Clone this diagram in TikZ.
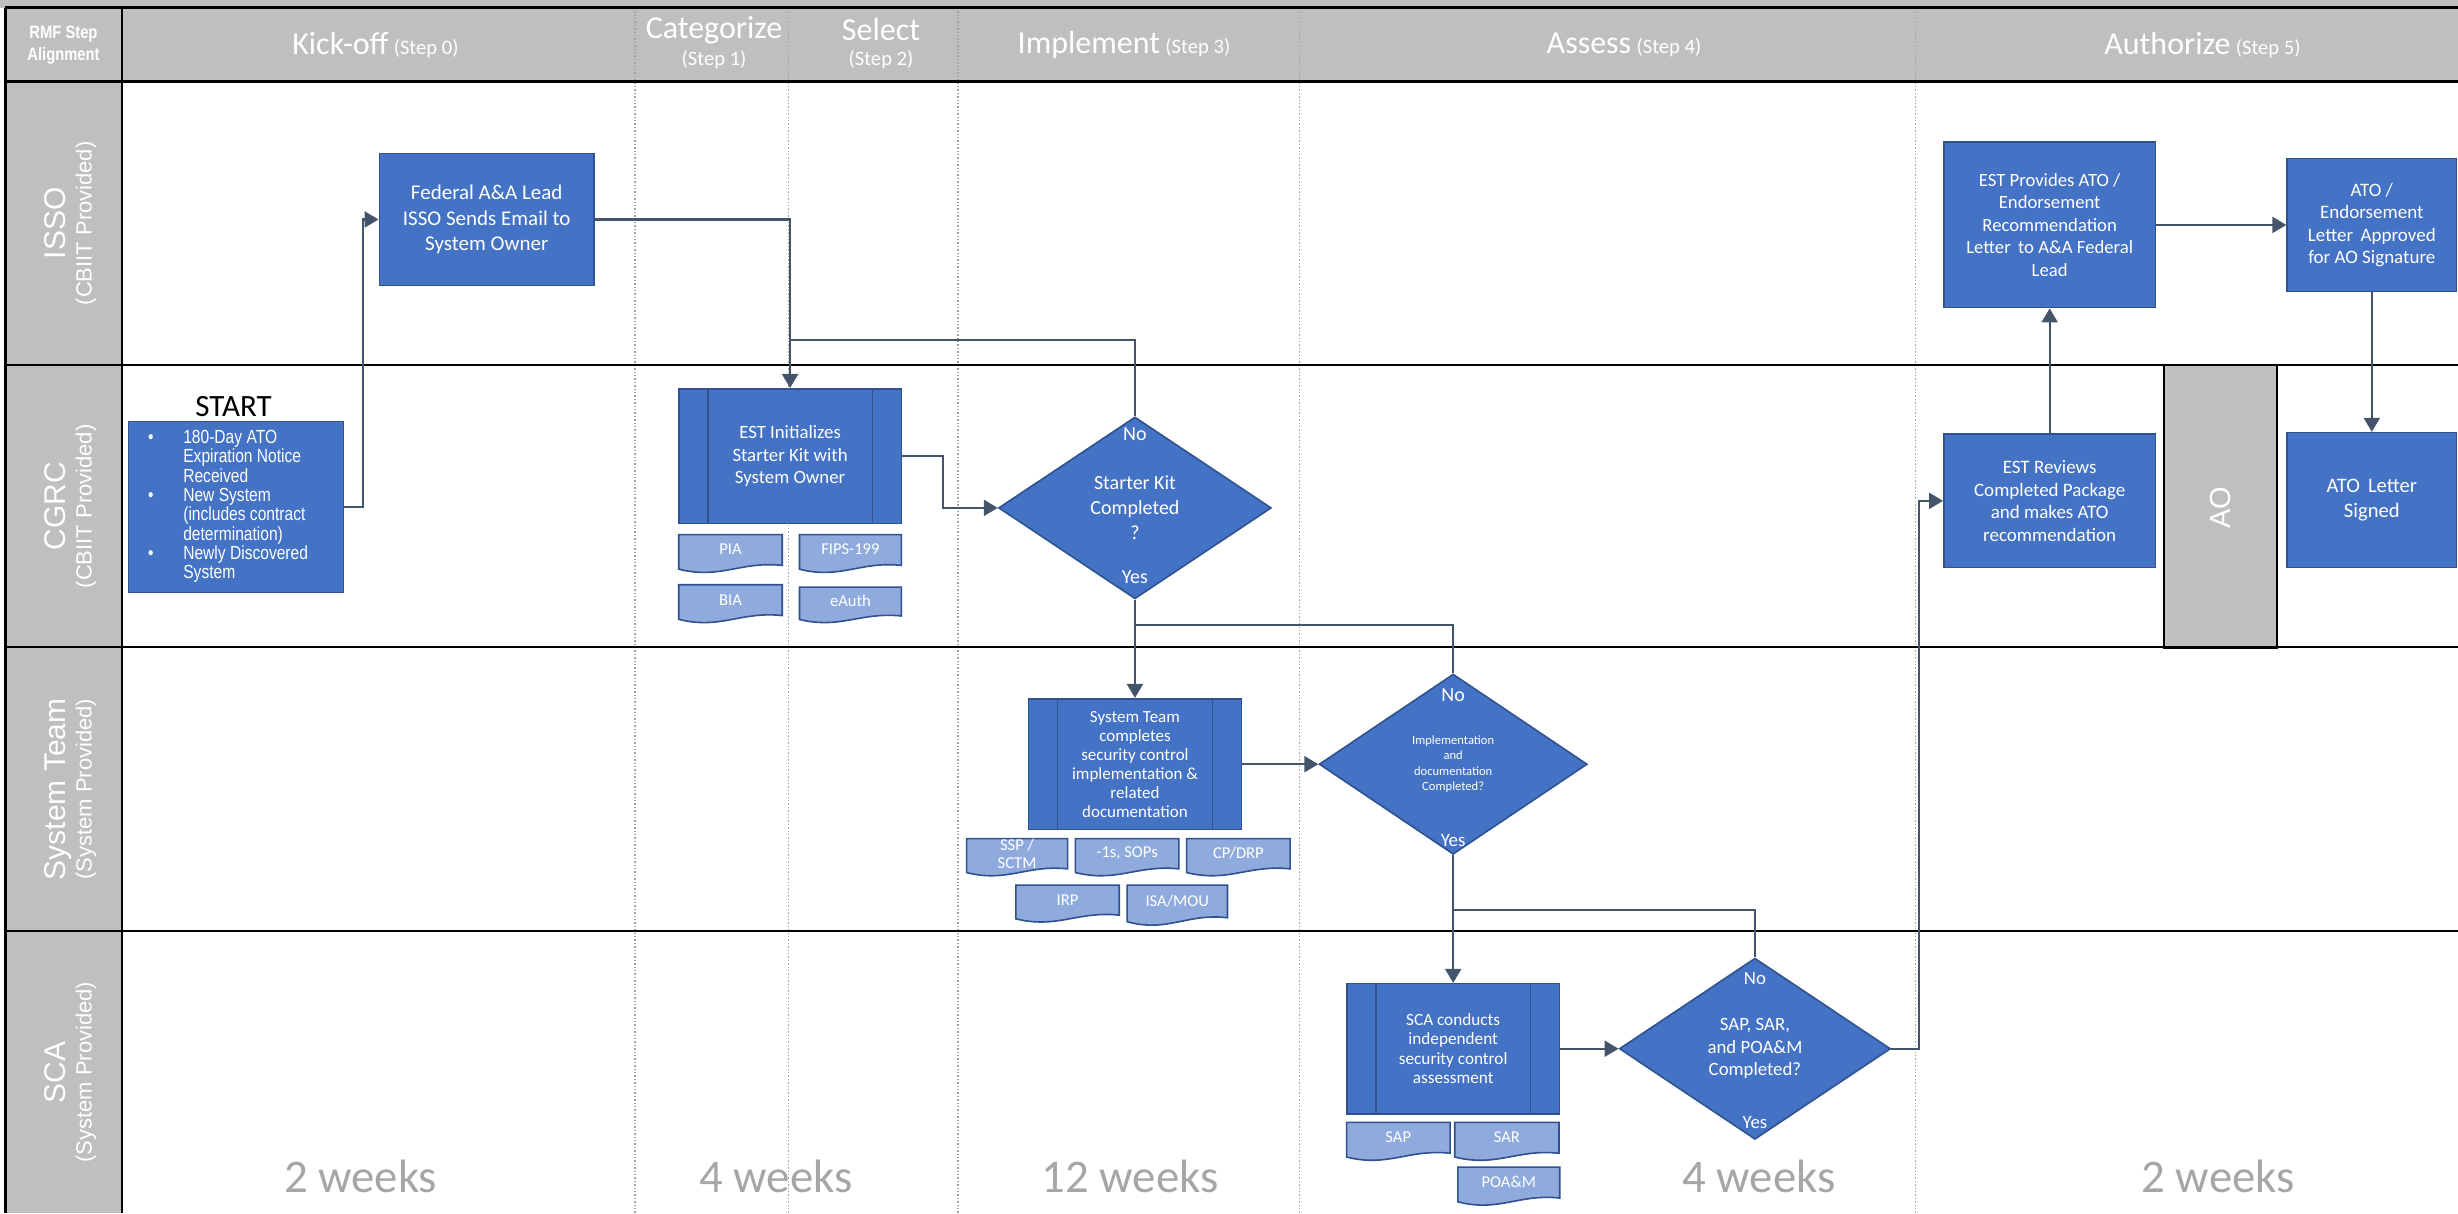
\documentclass[tikz,border=0pt]{standalone}
\usepackage{fontspec}
\setmainfont{Carlito}
\newfontfamily\arialfont{Liberation Sans}
\newfontfamily\narrowfont{Liberation Sans}[FakeStretch=0.82]
\usetikzlibrary{arrows.meta,positioning,calc,shapes.geometric}

\newlength{\px}\setlength{\px}{0.7838pt}
\newcommand{\fs}[2]{\fontsize{#1}{#2}\selectfont}

\definecolor{boxblue}{HTML}{4472C4}
\definecolor{boxedge}{HTML}{2F528F}
\definecolor{docblue}{HTML}{8FAADC}
\definecolor{flowgray}{HTML}{44546A}
\definecolor{lanegray}{HTML}{BFBFBF}
\definecolor{weekgray}{HTML}{A6A6A6}
\definecolor{dotgray}{HTML}{A0A0A0}

\tikzset{
  box/.style={draw=boxedge, line width=0.8pt, fill=boxblue, text=white, align=center, inner sep=0pt},
  procbox/.style={box, path picture={
      \draw[boxedge, line width=0.8pt]
        ([xshift=18.5\px]path picture bounding box.north west) -- ([xshift=18.5\px]path picture bounding box.south west)
        ([xshift=-18.5\px]path picture bounding box.north east) -- ([xshift=-18.5\px]path picture bounding box.south east);}},
  decision/.style={box, diamond, aspect=1.5},
  dlabel/.style={text=white, inner sep=0pt},
  docshape/.style={draw=boxedge, fill=docblue, line width=0.8pt},
  doctext/.style={text=white, align=center, inner sep=0pt, font=\fs{8.3}{9}},
  flow/.style={draw=flowgray, line width=1.1pt, -{Triangle[length=7pt,width=8pt]}},
  link/.style={draw=flowgray, line width=1.1pt},
  hdr/.style={text=white, font=\fs{16}{18}, inner sep=0pt},
  hstep/.style={text=white, font=\fs{10.3}{12}, inner sep=0pt},
  lanetitle/.style={text=white, rotate=90, anchor=base, inner sep=0pt, font=\arialfont\fs{15}{16}},
  lanesub/.style={text=white, rotate=90, anchor=base, inner sep=0pt, font=\arialfont\fs{11}{12}},
  weeks/.style={text=weekgray, anchor=base, inner sep=0pt, font=\fs{23.4}{26}},
  colline/.style={dotgray, densely dotted, line width=0.7pt},
}

% document symbol: name, left, top, right, bottom, text
\newcommand{\docbox}[6]{%
  \filldraw[docshape] (#2,#3) -- (#4,#3) -- (#4,{#5-0.18*(#5-#3)})
    .. controls ({#4-0.4*(#4-#2)},{#5-0.3*(#5-#3)}) and ({#2+0.4*(#4-#2)},{#5+0.2*(#5-#3)})
    .. (#2,{#5-0.08*(#5-#3)}) -- cycle;
  \node[doctext] (#1) at ({(#2+#4)/2},{#3+0.4*(#5-#3)}) {#6};
}

\begin{document}
\begin{tikzpicture}[x=1\px, y=-1\px]
  \useasboundingbox (0,0) rectangle (1568,774);

  % swimlane frame
  \fill[lanegray] (0,0) rectangle (1568,5);
  \fill[lanegray] (3,5) rectangle (1568,52);
  \fill[lanegray] (3,52) rectangle (78,774);
  \foreach \cx in {405,503,611,829,1222}
    \draw[colline] (\cx,5) -- (\cx,774);
  \draw[line width=1.6pt] (3,5) -- (1568,5);
  \draw[line width=1.8pt] (3,52) -- (1568,52);
  \foreach \ly in {233,413,594}
    \draw[line width=1pt] (3,\ly) -- (1568,\ly);
  \draw[line width=1.2pt] (3.5,5) -- (3.5,774);
  \draw[line width=1.2pt] (78,5) -- (78,774);

  % header
  \node[text=white, align=center, inner sep=0pt, font=\narrowfont\bfseries\fs{9}{11}] (rmf) at (40.5,28.5) {RMF Step\\Alignment};
  \node[hdr] (hkick) at (239.5,28.5) {Kick-off\,{\fs{10.3}{12}(Step 0)}};
  \node[hdr] (hcat) at (455.5,19) {Categorize};
  \node[hstep] (hcats) at (455.5,38) {(Step 1)};
  \node[hdr] (hsel) at (562,19) {Select};
  \node[hstep] (hsels) at (562,38) {(Step 2)};
  \node[hdr] (himp) at (717,28.5) {Implement\,{\fs{10.3}{12}(Step 3)}};
  \node[hdr] (hass) at (1036,28.5) {Assess\,{\fs{10.3}{12}(Step 4)}};
  \node[hdr] (haut) at (1405,28.5) {Authorize\,{\fs{10.3}{12}(Step 5)}};

  % lane names
  \node[lanetitle] (lisso) at (41.5,142.5) {ISSO};
  \node[lanesub] (lissos) at (58.4,142.5) {(CBIIT Provided)};
  \node[lanetitle] (lcgrc) at (41.5,323) {CGRC};
  \node[lanesub] (lcgrcs) at (58.4,323) {(CBIIT Provided)};
  \node[lanetitle] (lsys) at (41.5,503.5) {System Team};
  \node[lanesub] (lsyss) at (58.4,503.5) {(System Provided)};
  \node[lanetitle] (lsca) at (41.5,684) {SCA};
  \node[lanesub] (lscas) at (58.4,684) {(System Provided)};

  % AO column
  \node[draw=black, line width=1.1pt, fill=lanegray, minimum width=72\px, minimum height=180\px, inner sep=0pt] (ao) at (1416.6,323) {};
  \node[text=white, rotate=90, inner sep=0pt, font=\arialfont\fs{14.5}{16}] (aotext) at (1416.6,324) {AO};

  % kick-off
  \node[anchor=base, inner sep=0pt, font=\fs{15.5}{17}] (startlbl) at (149,266) {START};
  \node[box, minimum width=137\px, minimum height=109\px, font=\narrowfont\fs{9.5}{9.5}] (start) at (150.5,323.5)
    {\begin{tabular}{@{\hspace{9.8pt}}p{17.6pt}@{}p{80pt}@{}}
      \textbullet & 180-Day ATO\\ & Expiration Notice\\ & Received\\
      \textbullet & New System\\ & (includes contract\\ & determination)\\
      \textbullet & Newly Discovered\\ & System
     \end{tabular}};
  \node[box, minimum width=137\px, minimum height=84\px, font=\fs{10.5}{12.75}] (fed) at (310.5,140)
    {Federal A\&A Lead\\ISSO Sends Email to\\System Owner};

  % categorize / select
  \node[procbox, minimum width=142\px, minimum height=86\px, font=\fs{9.4}{11.2}] (est) at (504,291)
    {EST Initializes\\Starter Kit with\\System Owner};
  \docbox{pia}{433}{341}{499}{365}{PIA}
  \docbox{fips}{510}{341}{575}{365}{FIPS-199}
  \docbox{bia}{433}{373}{499}{397}{BIA}
  \docbox{eauth}{510}{374.5}{575}{397}{eAuth}
  \node[decision, minimum width=174\px, minimum height=116\px, font=\fs{10}{12.5}] (dia1) at (724,324)
    {Starter Kit\\Completed\\?};
  \node[dlabel, font=\fs{10}{12}] (dia1no) at ([yshift=-11.5\px]dia1.north) {No};
  \node[dlabel, font=\fs{10}{12}] (dia1yes) at ([yshift=14.5\px]dia1.south) {Yes};

  % implement
  \node[procbox, minimum width=136\px, minimum height=83.5\px, font=\fs{8.5}{9.5}] (sys) at (724,487.5)
    {System Team\\completes\\security control\\implementation \&\\related\\documentation};
  \docbox{ssp}{616.6}{535}{681}{558.5}{SSP /\\SCTM}
  \docbox{sops}{686}{535}{752}{558.5}{-1s, SOPs}
  \docbox{cpdrp}{757}{535}{823}{558.5}{CP/DRP}
  \docbox{irp}{648}{564.6}{714}{588}{IRP}
  \docbox{isamou}{719}{564.6}{783}{590}{ISA/MOU}
  \node[decision, minimum width=171\px, minimum height=115\px, font=\fs{6.3}{7.8}] (dia2) at (927,487.5)
    {Implementation\\and\\documentation\\Completed?};
  \node[dlabel, font=\fs{10}{12}] (dia2no) at ([yshift=-13.7\px]dia2.north) {No};
  \node[dlabel, font=\fs{9.5}{12}] (dia2yes) at ([yshift=9.4\px]dia2.south) {Yes};

  % assess
  \node[procbox, minimum width=135.5\px, minimum height=83\px, font=\fs{8.6}{9.75}] (sca) at (927,669)
    {SCA conducts\\independent\\security control\\assessment};
  \docbox{sap}{859}{716}{925}{740}{SAP}
  \docbox{sar}{928}{716}{994.5}{740}{SAR}
  \docbox{poam}{930}{744.5}{995}{768.6}{POA\&M}
  \node[decision, minimum width=173\px, minimum height=115.6\px, font=\fs{9.4}{11.25}] (dia3) at (1119.5,669)
    {SAP, SAR,\\and POA\&M\\Completed?};
  \node[dlabel, font=\fs{9.4}{12}] (dia3no) at ([yshift=-13.7\px]dia3.north) {No};
  \node[dlabel, font=\fs{9.4}{12}] (dia3yes) at ([yshift=11\px]dia3.south) {Yes};

  % authorize
  \node[box, minimum width=135\px, minimum height=85\px, font=\fs{9.5}{11.3}] (estrev) at (1307.5,319.5)
    {EST Reviews\\Completed Package\\and makes ATO\\recommendation};
  \node[box, minimum width=135\px, minimum height=105.5\px, font=\fs{9.35}{11.2}] (estprov) at (1307.5,143.5)
    {EST Provides ATO /\\Endorsement\\Recommendation\\Letter\, to A\&A Federal\\Lead};
  \node[box, minimum width=108\px, minimum height=85\px, font=\fs{9.5}{11.2}] (atoend) at (1513,143.5)
    {ATO /\\Endorsement\\Letter\, Approved\\for AO Signature};
  \node[box, minimum width=108\px, minimum height=86\px, font=\fs{10.3}{12.5}] (atosig) at (1513,319)
    {ATO\, Letter\\Signed};

  % durations
  \node[weeks] (w0) at (230,761) {2 weeks};
  \node[weeks] (w1) at (495,761) {4 weeks};
  \node[weeks] (w3) at (721,761) {12 weeks};
  \node[weeks] (w4) at (1122,761) {4 weeks};
  \node[weeks] (w5) at (1415,761) {2 weeks};

  % connectors
  \coordinate (j1) at ($(est.north)+(0,-30.5)$);
  \coordinate (j2) at ($(sys.north)+(0,-46.5)$);
  \coordinate (j3) at ($(sca.north)+(0,-46.5)$);
  \draw[flow] (start.east) -- ++(12,0) |- (fed.west);
  \draw[flow] (fed.east) -| (est.north);
  \draw[link] (dia1.north) |- (j1);
  \draw[flow] (est.east) -- ++(26,0) |- (dia1.west);
  \draw[flow] (dia1.south) -- (sys.north);
  \draw[link] (dia2.north) |- (j2);
  \draw[flow] (sys.east) -- (dia2.west);
  \draw[flow] (dia2.south) -- (sca.north);
  \draw[link] (dia3.north) |- (j3);
  \draw[flow] (sca.east) -- (dia3.west);
  \draw[flow] (dia3.east) -- ++(17.6,0) |- (estrev.west);
  \draw[flow] (estrev.north) -- (estprov.south);
  \draw[flow] (estprov.east) -- (atoend.west);
  \draw[flow] (atoend.south) -- (atosig.north);
\end{tikzpicture}
\end{document}
